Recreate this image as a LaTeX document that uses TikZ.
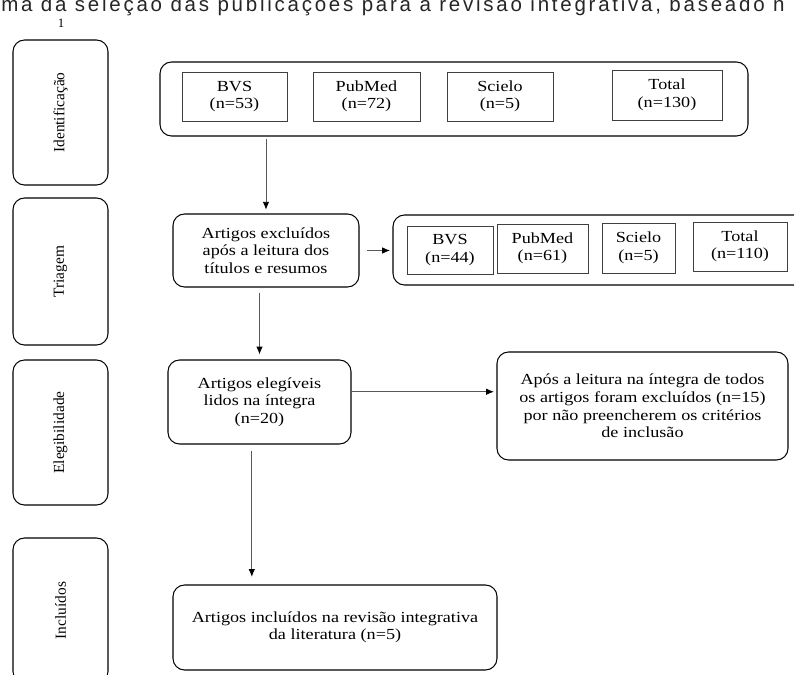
\documentclass[tikz,border=0pt]{standalone}
\usepackage{fontspec}
\setmainfont{Liberation Serif}[FakeStretch=1.18]
\newfontfamily\stagefont{Liberation Serif}
\newfontfamily\capfont{Liberation Sans}[LetterSpace=13.4]
\newcommand\px{0.78pt}
\usetikzlibrary{arrows.meta}

\begin{document}
\begin{tikzpicture}[x=0.78pt,y=-0.78pt,
  every node/.style={font=\fontsize{12}{13.7}\selectfont, align=center, inner sep=0pt},
  stage/.style={draw, rounded corners=9pt, line width=0.8pt, minimum width=95*\px, minimum height=145*\px},
  group/.style={draw, rounded corners=9pt, line width=0.8pt},
  src/.style={draw=black!75, line width=0.6pt, minimum height=49*\px},
  stepbox/.style={draw, rounded corners=9pt, line width=0.8pt},
  arr/.style={draw=black!65, line width=0.6pt, -{Latex[length=6pt,width=5pt,black]}}]
\useasboundingbox (0,0) rectangle (794,675);
\clip (0,0) rectangle (794,675);
% caption cut at the page edge
\node[anchor=base west, font=\capfont\fontsize{16}{18}\selectfont, text=black!85] (caption) at (1,12) {ma da seleção das publicações para a revisão integrativa, baseado n};
\node[font=\stagefont\fontsize{10}{11}\selectfont] (pagenum) at (61,23) {1};
% stages
\node[stage] (idst) at (60.5,112.5) {\rotatebox{90}{\stagefont Identificação}};
\node[stage, minimum height=147*\px] (trst) at (60.5,271.5) {\rotatebox{90}{\stagefont Triagem}};
\node[stage] (elst) at (60.5,432.5) {\rotatebox{90}{\stagefont Elegibilidade}};
\node[stage] (inst) at (60.5,610.5) {\rotatebox{90}{\stagefont Incluídos}};
% identification
\node[group, minimum width=588*\px, minimum height=74*\px] (idgrp) at (454,99) {};
\node[src, minimum width=105*\px] (bvsA) at (234.5,96.5) {BVS\\(n=53)};
\node[src, minimum width=107*\px] (pubA) at (366.5,96.5) {PubMed\\(n=72)};
\node[src, minimum width=106*\px] (sciA) at (500,96.5) {Scielo\\(n=5)};
\node[src, minimum width=110*\px, minimum height=50*\px] (totA) at (667,95) {Total\\(n=130)};
% screening
\node[stepbox, minimum width=186*\px, minimum height=73*\px] (excl) at (266,250.5) {Artigos excluídos\\após a leitura dos\\títulos e resumos};
\node[group, minimum width=417*\px, minimum height=70*\px] (trgrp) at (601.5,250) {};
\node[src, minimum width=86*\px, minimum height=48*\px] (bvsB) at (450,250) {BVS\\(n=44)};
\node[src, minimum width=91*\px] (pubB) at (542.5,248.5) {PubMed\\(n=61)};
\node[src, minimum width=73*\px, minimum height=50*\px] (sciB) at (638.5,248) {Scielo\\(n=5)};
\node[src, minimum width=94*\px] (totB) at (740,246.5) {Total\\(n=110)};
% eligibility
\node[stepbox, minimum width=183*\px, minimum height=84*\px] (elig) at (259.5,402) {Artigos elegíveis\\lidos na íntegra\\(n=20)};
\node[stepbox, minimum width=291*\px, minimum height=108*\px] (apos) at (642.5,406) {Após a leitura na íntegra de todos\\os artigos foram excluídos (n=15)\\por não preencherem os critérios\\de inclusão};
% included
\node[stepbox, minimum width=324*\px, minimum height=85*\px] (incl) at (335,627.5) {Artigos incluídos na revisão integrativa\\da literatura (n=5)};
% connectors
\draw[arr, shorten <=2pt, shorten >=3pt] (excl.north |- idgrp.south) -- (excl.north);
\draw[arr, shorten <=6pt, shorten >=2pt] (excl.east) -- (excl.east -| trgrp.west);
\draw[arr, shorten <=4pt, shorten >=4pt] (elig.north |- excl.south) -- (elig.north);
\draw[arr, shorten >=2pt] ([yshift=8pt]elig.east) -- ([yshift=8pt]elig.east -| apos.west);
\draw[arr, shorten <=5pt, shorten >=6pt] ([xshift=-6pt]elig.south) -- ([xshift=-6pt]elig.south |- incl.north);
\end{tikzpicture}
\end{document}
